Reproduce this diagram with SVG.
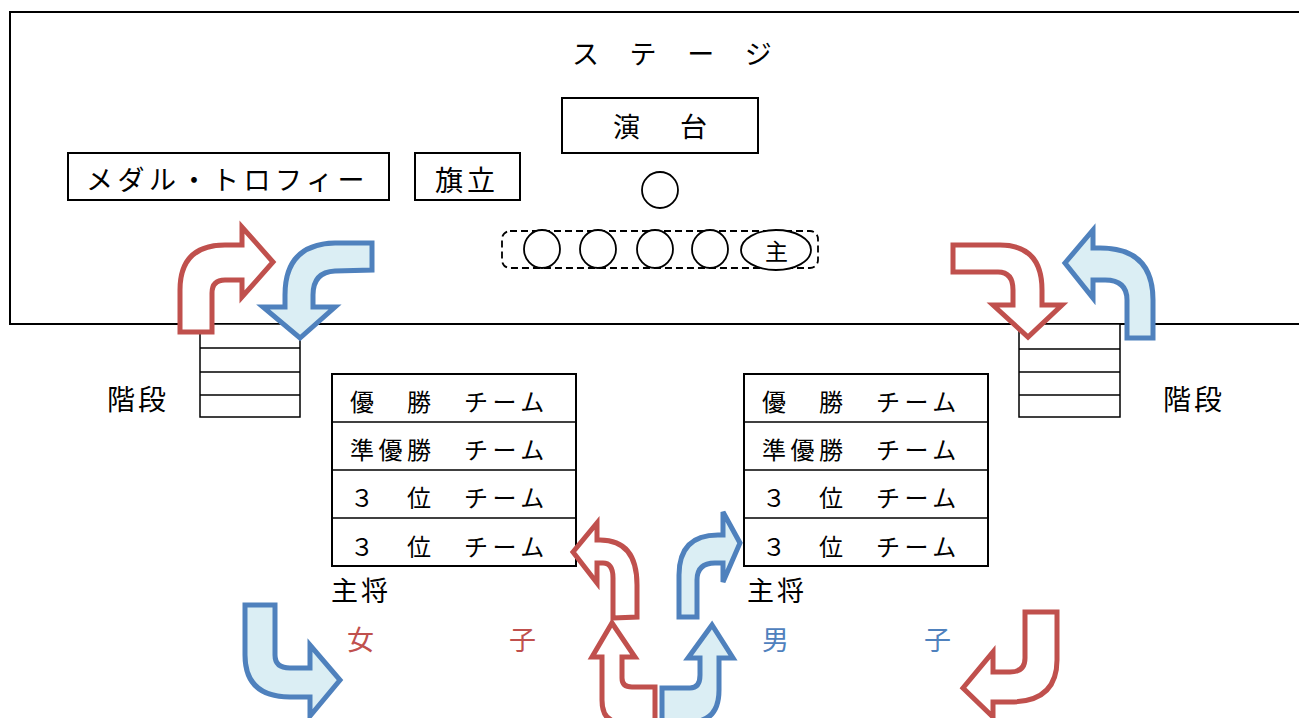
<svg xmlns="http://www.w3.org/2000/svg" width="1299" height="718" viewBox="0 0 1299 718">
<style>
text{font-family:"Noto Sans CJK JP","Noto Sans CJK SC",sans-serif;fill:#000;}
.box{fill:#fff;stroke:#000;stroke-width:2;}
.thin{fill:#fff;stroke:#000;stroke-width:1.5;}
.ln{stroke:#000;stroke-width:1.5;}
.red{fill:#fff;stroke:#C0504D;stroke-width:5;stroke-linejoin:miter;}
.blue{fill:#DBEEF4;stroke:#4F81BD;stroke-width:5;stroke-linejoin:miter;}
.t25{font-size:24px;letter-spacing:4.5px;}
.t28{font-size:27px;}
</style>
<rect width="1299" height="718" fill="#fff"/>
<g id="stage">
<rect class="box" x="10" y="12" width="1300" height="312"/>
<text class="t28" x="572" y="64" letter-spacing="1.8">ス　テ　ー　ジ</text>
</g>
<g id="podium">
<rect class="box" x="562" y="98" width="196" height="55"/>
<text class="t28" x="613 680" y="137">演台</text>
</g>
<g id="medal">
<rect class="box" x="68" y="153" width="321" height="47"/>
<text x="86" y="190" font-size="27" letter-spacing="4.5">メダル・トロフィー</text>
</g>
<g id="flag">
<rect class="box" x="415" y="153" width="105" height="47"/>
<text x="435" y="191" font-size="28" letter-spacing="4">旗立</text>
</g>
<g id="presenter">
<circle cx="660" cy="190" r="18" fill="#fff" stroke="#000" stroke-width="1.8"/>
</g>
<g id="team-row">
<rect x="502" y="231" width="316" height="37" rx="8" fill="none" stroke="#000" stroke-width="1.8" stroke-dasharray="7,4"/>
<ellipse cx="542" cy="249" rx="18" ry="19" fill="#fff" stroke="#000" stroke-width="1.8"/>
<ellipse cx="598" cy="249" rx="18" ry="19" fill="#fff" stroke="#000" stroke-width="1.8"/>
<ellipse cx="655" cy="249" rx="18" ry="19" fill="#fff" stroke="#000" stroke-width="1.8"/>
<ellipse cx="710" cy="249" rx="18" ry="19" fill="#fff" stroke="#000" stroke-width="1.8"/>
<ellipse cx="776" cy="250" rx="35" ry="20" fill="#fff" stroke="#000" stroke-width="1.8"/>
<text x="765" y="260" font-size="23">主</text>
</g>
<g id="stairs-left">
<rect class="thin" x="200" y="324" width="100" height="93"/>
<line class="ln" x1="200" y1="348" x2="300" y2="348"/>
<line class="ln" x1="200" y1="372" x2="300" y2="372"/>
<line class="ln" x1="200" y1="395" x2="300" y2="395"/>
<text x="107" y="410" font-size="28" letter-spacing="3">階段</text>
</g>
<g id="stairs-right">
<rect class="thin" x="1019" y="324" width="101" height="93"/>
<line class="ln" x1="1019" y1="349" x2="1120" y2="349"/>
<line class="ln" x1="1019" y1="372" x2="1120" y2="372"/>
<line class="ln" x1="1019" y1="395" x2="1120" y2="395"/>
<text x="1163" y="410" font-size="28" letter-spacing="3">階段</text>
</g>
<g id="girls-table">
<rect class="box" x="332" y="374" width="244" height="192"/>
<line class="ln" x1="332" y1="422" x2="576" y2="422" stroke-width="2"/>
<line class="ln" x1="332" y1="470" x2="576" y2="470" stroke-width="2"/>
<line class="ln" x1="332" y1="518" x2="576" y2="518" stroke-width="2"/>
<text class="t25" x="350" y="411">優　勝　チーム</text>
<text class="t25" x="350" y="459">準優勝　チーム</text>
<text class="t25" x="350" y="507">３　位　チーム</text>
<text class="t25" x="350" y="556">３　位　チーム</text>
<text x="331" y="601" font-size="27" letter-spacing="3">主将</text>
<text x="347" y="650" font-size="27" style="fill:#C0504D">女</text>
<text x="509" y="650" font-size="27" style="fill:#C0504D">子</text>
</g>
<g id="boys-table">
<rect class="box" x="744" y="374" width="244" height="192"/>
<line class="ln" x1="744" y1="422" x2="988" y2="422" stroke-width="2"/>
<line class="ln" x1="744" y1="470" x2="988" y2="470" stroke-width="2"/>
<line class="ln" x1="744" y1="518" x2="988" y2="518" stroke-width="2"/>
<text class="t25" x="762" y="411">優　勝　チーム</text>
<text class="t25" x="762" y="459">準優勝　チーム</text>
<text class="t25" x="762" y="507">３　位　チーム</text>
<text class="t25" x="762" y="556">３　位　チーム</text>
<text x="747" y="601" font-size="27" letter-spacing="3">主将</text>
<text x="762" y="650" font-size="27" style="fill:#4F81BD">男</text>
<text x="924" y="650" font-size="27" style="fill:#4F81BD">子</text>
</g>
<g id="connectors">
<path class="red" d="M180,332 L180,290 Q180,245 225,245 L242,245 L242,227 L273,262 L242,297 L242,280 L225,280 Q212,280 212,293 L212,332 Z"/>
<path class="blue" d="M372,243 L372,270 L335,271 Q313,272 313,295 L313,307 L335,307 L300,338 L263,307 L285,307 L285,295 Q285,244 335,243 Z"/>
<path class="red" d="M953,245 L1000,245 Q1042,245 1042,290 L1042,305 L1062,305 L1028,337 L993,305 L1013,305 L1013,290 Q1013,272 998,272 L953,272 Z"/>
<path class="blue" d="M1127,338 L1153,338 L1153,300 Q1153,248 1100,248 L1093,248 L1093,230 L1065,263 L1093,298 L1093,280 L1105,280 Q1127,280 1127,300 Z"/>
<path class="red" d="M613,618 L637,617 L637,585 Q637,540 600,540 L597,540 L597,523 L573,552 L597,583 L597,563 L603,563 Q613,563 613,578 Z"/>
<path class="blue" d="M679,617 L679,575 Q679,535 718,535 L723,535 L723,512 L740,543 L723,582 L723,563 L715,563 Q697,563 697,580 L697,617 Z"/>
<path class="red" d="M655,687 L655,722 L620,722 Q602,722 602,700 L602,657 L592,657 L612,623 L635,657 L622,657 L622,678 Q622,687 632,687 Z"/>
<path class="blue" d="M662,688 L690,688 Q700,688 700,675 L700,658 L688,658 L712,625 L733,658 L719,658 L719,690 Q719,722 690,722 L662,722 Z"/>
<path class="blue" d="M245,605 L275,605 L275,655 Q275,668 290,668 L310,668 L310,645 L340,680 L310,716 L310,697 L290,697 Q245,697 245,655 Z"/>
<path class="red" d="M1025,612 L1057,612 L1057,660 Q1057,702 1010,702 L993,702 L993,717 L963,688 L993,652 L993,672 L1010,672 Q1025,672 1025,658 Z"/>
</g>
</svg>
